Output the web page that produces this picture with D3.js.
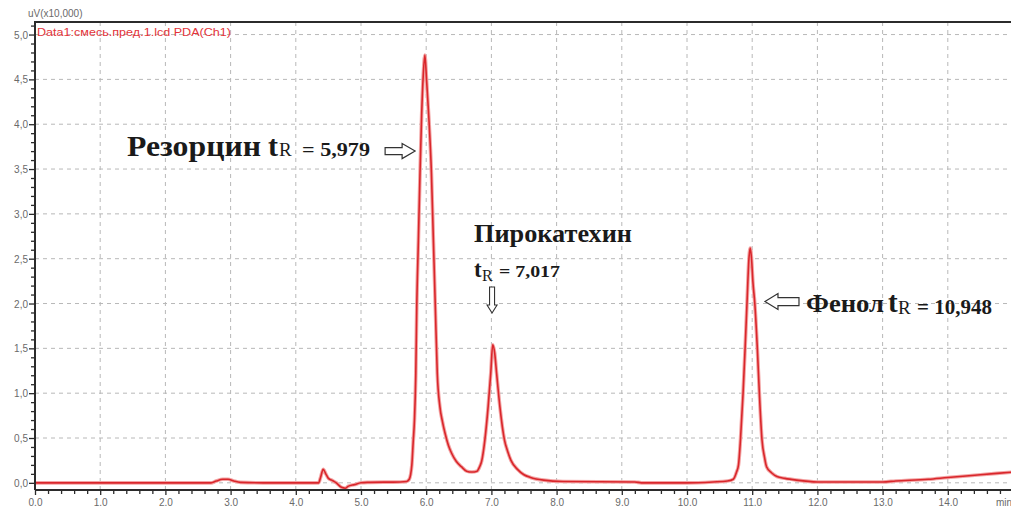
<!DOCTYPE html>
<html>
<head>
<meta charset="utf-8">
<script src="https://cdn.jsdelivr.net/npm/d3@7/dist/d3.min.js"></script>
<style>
  html, body { margin: 0; padding: 0; background: #fff; }
  svg { display: block; }
</style>
</head>
<body>
<div id="chart"></div>
<script>
// chromatogram trace (min, uV x10 000)
const retentionTimes = [
    0.0, 2.70, 2.78, 2.88, 2.96, 3.05, 3.15, 3.50, 4.35, 4.38, 4.42, 4.46, 4.50, 4.55, 4.62, 4.70, 4.76, 4.80, 4.90, 5.00,
    5.10, 5.60, 5.70, 5.74, 5.78, 5.80, 5.82, 5.84, 5.855, 5.88, 5.905, 5.93, 5.955, 5.98, 6.005, 6.04, 6.08, 6.11, 6.14,
    6.17, 6.21, 6.25, 6.29, 6.34, 6.39, 6.46, 6.54, 6.62, 6.70, 6.78, 6.82, 6.85, 6.90, 6.95, 6.99, 7.02, 7.05, 7.08, 7.13,
    7.20, 7.25, 7.30, 7.40, 7.50, 7.60, 7.80, 8.10, 9.20, 9.30, 10.0, 10.40, 10.62, 10.71, 10.76, 10.79, 10.82, 10.86, 10.89, 10.92,
    10.95, 10.97, 10.99, 11.01, 11.04, 11.08, 11.11, 11.15, 11.19, 11.22, 11.30, 11.38, 11.50, 11.68, 12.0, 13.0, 13.2, 13.7, 14.0, 14.5,
    15.0
];
const signal = [
    0.0, 0.0, 0.02, 0.04, 0.04, 0.02, 0.005, 0.0, 0.0, 0.06, 0.15, 0.10, 0.05, 0.03, 0.0, -0.05, -0.06, -0.04, -0.02, 0.0,
    0.005, 0.01, 0.015, 0.04, 0.2, 0.45, 0.7, 1.2, 1.95, 2.7, 3.45, 4.1, 4.55, 4.77, 4.5, 4.08, 3.46, 2.71, 1.96,
    1.22, 0.85, 0.68, 0.55, 0.42, 0.33, 0.24, 0.18, 0.13, 0.12, 0.13, 0.18, 0.24, 0.48, 0.85, 1.22, 1.54, 1.45, 1.22, 0.85,
    0.48, 0.35, 0.25, 0.15, 0.09, 0.06, 0.03, 0.015, 0.01, 0.0, 0.0, 0.01, 0.02, 0.04, 0.12, 0.2, 0.48, 1.0, 1.48, 2.0,
    2.5, 2.62, 2.5, 2.25, 2.0, 1.48, 1.0, 0.48, 0.28, 0.18, 0.11, 0.07, 0.05, 0.03, 0.01, 0.01, 0.02, 0.04, 0.06, 0.09,
    0.12
];

const xTickValues = [0, 1, 2, 3, 4, 5, 6, 7, 8, 9, 10, 11, 12, 13, 14];
const yTickValues = [0, 0.5, 1, 1.5, 2, 2.5, 3, 3.5, 4, 4.5, 5];
const xTickLabels = ["0.0", "1.0", "2.0", "3.0", "4.0", "5.0", "6.0", "7.0", "8.0", "9.0", "10.0", "11.0", "12.0", "13.0", "14.0"];
const yTickLabels = ["0,0", "0,5", "1,0", "1,5", "2,0", "2,5", "3,0", "3,5", "4,0", "4,5", "5,0"];

const peakNames = ["Резорцин", "Пирокатехин", "Фенол"];
const peakTimes = ["= 5,979", "= 7,017", "= 10,948"];

const width = 1011;
const height = 508;
const plotLeft = 35;
const plotRight = 1013;
const plotTop = 22;
const plotBottom = 490;
const axisColor = "#2b2b2b";
const gridColor = "#b8b8b8";
const labelColor = "#6a6a6a";
const traceColor = "#d9262b";
const serif = "'Liberation Serif', 'DejaVu Serif', serif";
const sans = "'Liberation Sans', Arial, sans-serif";

const x = d3.scaleLinear().domain([0, 15]).range([plotLeft, plotRight]);
const y = d3.scaleLinear().domain([-0.08, 5.14]).range([plotBottom, plotTop]);

const svg = d3.select("#chart")
    .append("svg")
    .attr("width", width)
    .attr("height", height);

// dashed grid
svg.append("g")
    .selectAll("line")
    .data(xTickValues.filter(d => d > 0))
    .join("line")
    .attr("x1", d => x(d))
    .attr("x2", d => x(d))
    .attr("y1", plotTop)
    .attr("y2", plotBottom)
    .attr("stroke", gridColor)
    .attr("stroke-dasharray", "4,4");

svg.append("g")
    .selectAll("line")
    .data(yTickValues)
    .join("line")
    .attr("x1", plotLeft)
    .attr("x2", plotRight)
    .attr("y1", d => y(d))
    .attr("y2", d => y(d))
    .attr("stroke", gridColor)
    .attr("stroke-dasharray", "4,4");

// trace
const points = retentionTimes.map((t, i) => [t, signal[i]]);
const line = d3.line()
    .x(d => x(d[0]))
    .y(d => y(d[1]))
    .curve(d3.curveMonotoneX);

svg.append("path")
    .datum(points)
    .attr("d", line)
    .attr("fill", "none")
    .attr("stroke", "#f3a5a5")
    .attr("stroke-width", 3.6);

svg.append("path")
    .datum(points)
    .attr("d", line)
    .attr("fill", "none")
    .attr("stroke", traceColor)
    .attr("stroke-width", 1.6);

// axes
const minorX = d3.range(0, 15.01, 0.2).filter(d => Math.abs(d - Math.round(d)) > 0.01);
const minorY = d3.range(-0.0, 5.11, 0.1).filter(d => Math.abs(d * 2 - Math.round(d * 2)) > 0.01);

const xAxis = svg.append("g")
    .attr("transform", `translate(0,${plotBottom})`)
    .call(d3.axisBottom(x).tickValues(xTickValues).tickSize(5).tickFormat((d, i) => xTickLabels[i]));
const xMinor = svg.append("g")
    .attr("transform", `translate(0,${plotBottom})`)
    .call(d3.axisBottom(x).tickValues(minorX).tickSize(4).tickFormat(""));
const yAxis = svg.append("g")
    .attr("transform", `translate(${plotLeft},0)`)
    .call(d3.axisLeft(y).tickValues(yTickValues).tickSize(6).tickFormat((d, i) => yTickLabels[i]));
const yMinor = svg.append("g")
    .attr("transform", `translate(${plotLeft},0)`)
    .call(d3.axisLeft(y).tickValues(minorY).tickSize(4).tickFormat(""));

[xAxis, xMinor, yAxis, yMinor].forEach(g => {
    g.select(".domain").remove();
    g.selectAll(".tick line").attr("stroke", axisColor).attr("stroke-width", 1.3);
    g.selectAll(".tick text")
        .attr("fill", labelColor)
        .style("font-family", sans)
        .style("font-size", "10px");
});
xAxis.selectAll(".tick text").attr("y", 9);
yAxis.selectAll(".tick text").attr("x", -7).attr("dy", "0.35em");

svg.append("path")
    .attr("d", `M${plotLeft},${plotBottom}H${plotRight}M${plotLeft},${plotBottom}V${plotTop}H${plotRight}`)
    .attr("fill", "none")
    .attr("stroke", axisColor)
    .attr("stroke-width", 2);

// unit label, cut by the right edge as in the source image
svg.append("text")
    .attr("x", 996)
    .attr("y", 506)
    .attr("fill", labelColor)
    .style("font-family", sans)
    .style("font-size", "10px")
    .text("min");

svg.append("text")
    .attr("x", 28)
    .attr("y", 17)
    .attr("fill", labelColor)
    .style("font-family", sans)
    .style("font-size", "10px")
    .text("uV(x10,000)");

svg.append("text")
    .attr("x", 37)
    .attr("y", 36)
    .attr("fill", "#e4343a")
    .attr("textLength", 194)
    .attr("lengthAdjust", "spacingAndGlyphs")
    .style("font-family", sans)
    .style("font-size", "10px")
    .text("Data1:смесь.пред.1.lcd PDA(Ch1)");

// hollow arrows: tip position, direction, length, head length, shaft and head half widths
const arrowPath = (tx, ty, dir, len, head, shaft, half) => {
    const pts = [[0, 0], [-head, -half], [-head, -shaft], [-len, -shaft], [-len, shaft], [-head, shaft], [-head, half]];
    const rot = {right: p => [p[0], p[1]], left: p => [-p[0], p[1]], down: p => [p[1], p[0]]}[dir];
    return "M" + pts.map(p => rot(p)).map(p => [tx + p[0], ty + p[1]].join(",")).join("L") + "Z";
};

const annotations = svg.append("g")
    .style("font-family", serif)
    .style("font-weight", "bold")
    .attr("fill", "#1a1a1a");

// resorcinol
annotations.append("text").attr("x", 127).attr("y", y(3.645)).style("font-size", "30px")
    .attr("textLength", 134).attr("lengthAdjust", "spacingAndGlyphs").text(peakNames[0]);
annotations.append("text").attr("x", 268).attr("y", y(3.645)).style("font-size", "30px").text("t");
annotations.append("text").attr("x", 279).attr("y", y(3.645)).style("font-size", "19px").style("font-weight", "normal").text("R");
annotations.append("text").attr("x", 302).attr("y", y(3.645)).style("font-size", "19px")
    .attr("textLength", 68).attr("lengthAdjust", "spacingAndGlyphs").text(peakTimes[0]);
annotations.append("path").attr("d", arrowPath(x(5.83), y(3.70), "right", 30, 13, 3.5, 7.5))
    .attr("fill", "#fff").attr("stroke", "#333").attr("stroke-width", 1.2);

// pyrocatechol
annotations.append("text").attr("x", 474).attr("y", y(2.686)).style("font-size", "25px")
    .attr("textLength", 158).attr("lengthAdjust", "spacingAndGlyphs").text(peakNames[1]);
annotations.append("text").attr("x", 474).attr("y", y(2.296)).style("font-size", "23px").text("t");
annotations.append("text").attr("x", 482).attr("y", y(2.25)).style("font-size", "16px").style("font-weight", "normal").text("R");
annotations.append("text").attr("x", 499).attr("y", y(2.296)).style("font-size", "16px")
    .attr("textLength", 61).attr("lengthAdjust", "spacingAndGlyphs").text(peakTimes[1]);
annotations.append("path").attr("d", arrowPath(x(7.01), y(1.894), "down", 26, 8, 2.5, 5))
    .attr("fill", "#fff").attr("stroke", "#333").attr("stroke-width", 1.1);

// phenol
annotations.append("path").attr("d", arrowPath(x(11.196), y(2.022), "left", 34, 13, 4, 8))
    .attr("fill", "#fff").attr("stroke", "#333").attr("stroke-width", 1.2);
annotations.append("text").attr("x", 806).attr("y", y(1.905)).style("font-size", "26px")
    .attr("textLength", 78).attr("lengthAdjust", "spacingAndGlyphs").text(peakNames[2]);
annotations.append("text").attr("x", 888).attr("y", y(1.905)).style("font-size", "29px").text("t");
annotations.append("text").attr("x", 898).attr("y", y(1.88)).style("font-size", "19px").style("font-weight", "normal").text("R");
annotations.append("text").attr("x", 917).attr("y", y(1.88)).style("font-size", "21px")
    .attr("textLength", 75).attr("lengthAdjust", "spacingAndGlyphs").text(peakTimes[2]);
</script>
</body>
</html>
